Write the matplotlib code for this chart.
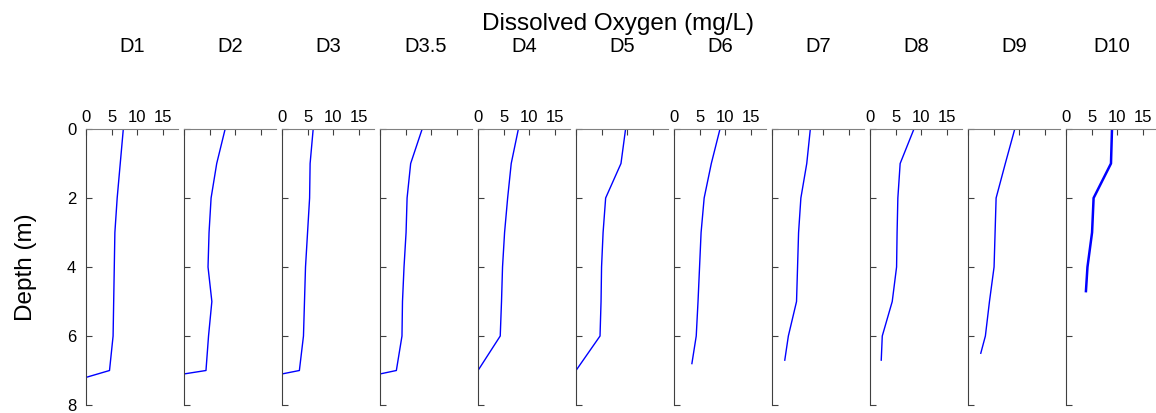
import numpy as np
import matplotlib
matplotlib.use("Agg")
import matplotlib.pyplot as plt

plt.rcParams["font.family"] = ["Liberation Sans", "DejaVu Sans"]

# station names and dissolved oxygen profiles (depth in m, DO in mg/L)
stations = ["D1", "D2", "D3", "D3.5", "D4", "D5", "D6", "D7", "D8", "D9", "D10"]

d1_depth = [0, 1, 2, 3, 6, 7, 7.2]
d1_do = [7.3, 6.7, 6.1, 5.65, 5.3, 4.6, 0]
d2_depth = [0, 1, 2, 3, 4, 5, 6, 7, 7.1]
d2_do = [8.05, 6.4, 5.3, 4.9, 4.7, 5.45, 4.8, 4.3, 0]
d3_depth = [0, 1, 2, 3, 4, 5, 6, 7, 7.1]
d3_do = [6.1, 5.5, 5.4, 5.0, 4.6, 4.4, 4.2, 3.4, 0]
d35_depth = [0, 1, 2, 3, 4, 5, 6, 7, 7.1]
d35_do = [8.25, 6.0, 5.3, 5.1, 4.7, 4.4, 4.3, 3.2, 0]
d4_depth = [0, 1, 2, 3, 4, 5, 6, 7]
d4_do = [7.9, 6.5, 5.8, 5.2, 4.8, 4.6, 4.35, 0]
d5_depth = [0, 1, 2, 3, 4, 5, 6, 7]
d5_do = [9.7, 8.8, 5.8, 5.3, 5.0, 4.9, 4.7, 0]
d6_depth = [0, 1, 2, 3, 4, 5, 6, 6.8]
d6_do = [9.0, 7.3, 5.9, 5.3, 5.0, 4.7, 4.35, 3.5]
d7_depth = [0, 1, 2, 3, 4, 5, 6, 6.7]
d7_do = [7.5, 6.8, 5.65, 5.2, 5.0, 4.8, 3.2, 2.5]
d8_depth = [0, 1, 2, 3, 4, 5, 6, 6.7]
d8_do = [8.6, 5.9, 5.45, 5.3, 5.2, 4.35, 2.4, 2.2]
d9_depth = [0, 1, 2, 3, 4, 5, 6, 6.5]
d9_do = [9.15, 7.3, 5.5, 5.3, 5.1, 4.2, 3.4, 2.5]
d10_depth = [0, 1, 2, 3, 4, 4.7]
d10_do = [9.0, 8.8, 5.4, 5.1, 4.2, 3.9]

depths = [d1_depth, d2_depth, d3_depth, d35_depth, d4_depth, d5_depth,
          d6_depth, d7_depth, d8_depth, d9_depth, d10_depth]
oxygen = [d1_do, d2_do, d3_do, d35_do, d4_do, d5_do,
          d6_do, d7_do, d8_do, d9_do, d10_do]

x_ticks = [0, 5, 10, 15]
y_ticks = [0, 2, 4, 6, 8]
show_xlabels = ["D1", "D3", "D4", "D6", "D8", "D10"]

W, H = 1156, 413
fig = plt.figure(figsize=(W / 100, H / 100), dpi=100)

left0, step, width = 86, 98, 92
top, bottom = 129, 405

for i, name in enumerate(stations):
    ax = fig.add_axes([(left0 + i * step) / W, 1 - bottom / H,
                       width / W, (bottom - top) / H])
    lw = 1.8 if name == "D10" else 1.0
    ax.plot(oxygen[i], depths[i], color="#0000ff", linewidth=lw)
    ax.set_xlim(0, 18)
    ax.set_ylim(8, 0)
    ax.set_xticks(x_ticks)
    ax.set_yticks(y_ticks)
    ax.xaxis.tick_top()
    ax.spines["bottom"].set_visible(False)
    ax.spines["right"].set_visible(False)
    ax.spines["top"].set_color("#808080")
    ax.spines["left"].set_color("#404040")
    ax.tick_params(axis="both", direction="in", length=4, width=0.8,
                   colors="#404040", labelcolor="black", labelsize=12)
    ax.tick_params(axis="x", pad=3)
    ax.tick_params(axis="y", pad=7)
    if name not in show_xlabels:
        ax.set_xticklabels([])
    if i != 0:
        ax.set_yticklabels([])
    else:
        ax.set_ylabel("Depth (m)", fontsize=17.5)
        ax.yaxis.set_label_coords(-(86 - 37) / width, 0.5)
    ax.text(0.5, 1 + (top - 47) / (bottom - top), name, transform=ax.transAxes,
            ha="center", va="center", fontsize=14.5)

fig.text(618 / W, 1 - 24 / H, "Dissolved Oxygen (mg/L)", ha="center",
         va="center", fontsize=17.5)

fig.savefig("out.png", dpi=100)
